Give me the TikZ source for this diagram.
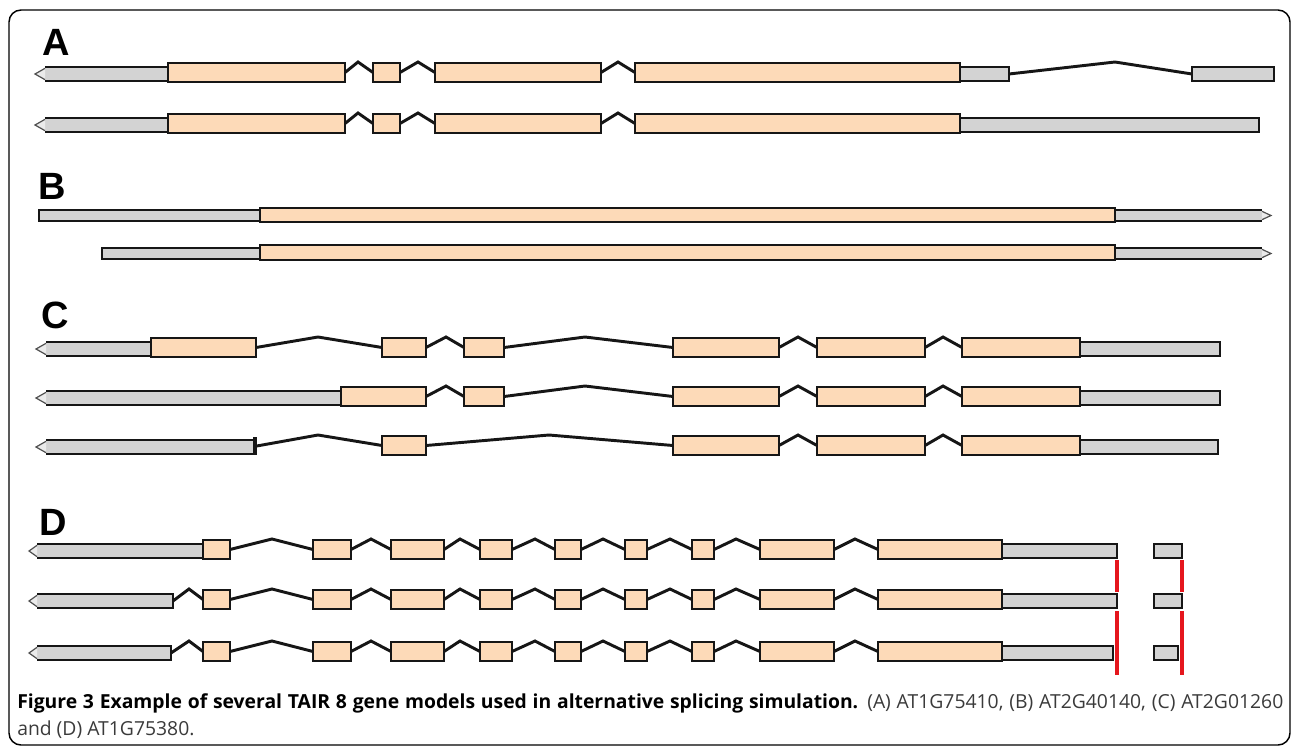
\documentclass[tikz,border=0pt]{standalone}
\usepackage{fontspec}
\setmainfont{Open Sans}
\newfontfamily\labfont{Liberation Sans}
\usetikzlibrary{calc}
\definecolor{cdsfill}{HTML}{FDDAB8}
\definecolor{utrfill}{HTML}{D3D3D3}
\definecolor{edgec}{HTML}{161616}
\definecolor{redmark}{HTML}{E5161D}
\definecolor{captxt}{HTML}{3A3A3A}
\tikzset{
 boxline/.style={draw=edgec, line width=2.1pt},
 cdsbox/.style={boxline, fill=cdsfill, inner sep=0pt, outer sep=0pt},
 utrbox/.style={boxline, fill=utrfill, inner sep=0pt, outer sep=0pt},
 utronly/.style={fill=utrfill, draw=none, inner sep=0pt, outer sep=0pt},
 intronline/.style={draw=edgec, line width=2.2pt, line join=miter},
 tipst/.style={draw=edgec!75, line width=0.9pt, fill=utrfill!45},
 panel/.style={font=\labfont\bfseries\fontsize{28.5}{28.5}\selectfont, anchor=base west, inner sep=0pt},
 redbar/.style={draw=redmark, line width=2.8pt},
 captext/.style={anchor=base west, inner sep=0pt, font=\fontsize{14.5}{20}\selectfont, text=captxt},
}
% exon: name, x1, x2, top y
\newcommand\cdsx[4]{\node[cdsbox, minimum width={(#3-#2)*0.75pt}, minimum height={19*0.75pt}] (#1) at ({(#2+#3)/2},{#4+9.5}) {};}
% plain UTR: name, x1, x2, top y (of row)
\newcommand\utrx[4]{\node[utrbox, minimum width={(#3-#2)*0.75pt}, minimum height={14*0.75pt}] (#1) at ({(#2+#3)/2},{#4+11}) {};}
% UTR with left-pointing tip: name, tip x, x1, x2, top y
\newcommand\utrtip[5]{\node[utronly, minimum width={(#4-#3)*0.75pt}, minimum height={14*0.75pt}] (#1) at ({(#3+#4)/2},{#5+11}) {};
 \draw[tipst] ([yshift=-1pt]#1.north west) -- (#2,{#5+11}) -- ([yshift=1pt]#1.south west);
 \draw[boxline] (#1.north west) -- (#1.north east) -- (#1.south east) -- (#1.south west);}
% intron: from, to, peak x, top y
\newcommand\intr[4]{\draw[intronline] (#1.east) -- (#3,{#4-1}) -- (#2.west);}
\begin{document}
\begin{tikzpicture}[x=0.75pt,y=-0.75pt]
\useasboundingbox (0,0) rectangle (1293,747);
\draw[line width=1.1pt, draw=black, rounded corners=9pt] (9,10) rectangle (1290,745);
% panel letters
\node[panel] (la) at (42,55) {A};
\node[panel] (lb) at (38,199) {B};
\node[panel] (lc) at (41,328) {C};
\node[panel] (ld) at (39,535) {D};
% ---------------- A ----------------
\utrtip{a1u}{35}{45}{168}{63}
\cdsx{a1e1}{168}{345}{63}
\cdsx{a1e2}{373}{400}{63}
\cdsx{a1e3}{435}{601}{63}
\cdsx{a1e4}{635}{960}{63}
\utrx{a1v}{960}{1009}{63}
\utrx{a1w}{1192}{1274}{63}
\intr{a1e1}{a1e2}{358}{63}
\intr{a1e2}{a1e3}{418}{63}
\intr{a1e3}{a1e4}{618}{63}
\intr{a1v}{a1w}{1115}{63}
\utrtip{a2u}{35}{45}{168}{114}
\cdsx{a2e1}{168}{345}{114}
\cdsx{a2e2}{373}{400}{114}
\cdsx{a2e3}{435}{601}{114}
\cdsx{a2e4}{635}{960}{114}
\utrx{a2v}{960}{1259}{114}
\intr{a2e1}{a2e2}{358}{114}
\intr{a2e2}{a2e3}{418}{114}
\intr{a2e3}{a2e4}{618}{114}
% ---------------- B ----------------
\begin{scope}[boxline/.append style={line width=1.5pt}]
\node[utrbox, minimum width={(260-39)*0.75pt}, minimum height={11*0.75pt}] (b1u) at ({(39+260)/2},215.5) {};
\node[cdsbox, minimum width={(1115-260)*0.75pt}, minimum height={14*0.75pt}] (b1e) at ({(260+1115)/2},215) {};
\node[utronly, minimum width={(1262-1115)*0.75pt}, minimum height={11*0.75pt}] (b1v) at ({(1115+1262)/2},215.5) {};
\draw[tipst] ([yshift=-1pt]b1v.north east) -- (1271,215.5) -- ([yshift=1pt]b1v.south east);
\draw[boxline] (b1v.north east) -- (b1v.north west) -- (b1v.south west) -- (b1v.south east);
\node[utrbox, minimum width={(260-102)*0.75pt}, minimum height={11*0.75pt}] (b2u) at ({(102+260)/2},253.5) {};
\node[cdsbox, minimum width={(1115-260)*0.75pt}, minimum height={15*0.75pt}] (b2e) at ({(260+1115)/2},252.5) {};
\node[utronly, minimum width={(1262-1115)*0.75pt}, minimum height={11*0.75pt}] (b2v) at ({(1115+1262)/2},253.5) {};
\draw[tipst] ([yshift=-1pt]b2v.north east) -- (1271,253.5) -- ([yshift=1pt]b2v.south east);
\draw[boxline] (b2v.north east) -- (b2v.north west) -- (b2v.south west) -- (b2v.south east);
\end{scope}
% ---------------- C ----------------
\utrtip{c1u}{36}{46}{151}{338}
\cdsx{c1e1}{151}{256}{338}
\cdsx{c1e2}{382}{426}{338}
\cdsx{c1e3}{464}{504}{338}
\cdsx{c1e4}{673}{779}{338}
\cdsx{c1e5}{817}{925}{338}
\cdsx{c1e6}{962}{1080}{338}
\utrx{c1v}{1080}{1220}{338}
\intr{c1e1}{c1e2}{318}{338}
\intr{c1e2}{c1e3}{446}{338}
\intr{c1e3}{c1e4}{585}{338}
\intr{c1e4}{c1e5}{798}{338}
\intr{c1e5}{c1e6}{943}{338}
\utrtip{c2u}{36}{46}{341}{387}
\cdsx{c2e1}{341}{426}{387}
\cdsx{c2e2}{464}{504}{387}
\cdsx{c2e3}{673}{779}{387}
\cdsx{c2e4}{817}{925}{387}
\cdsx{c2e5}{962}{1080}{387}
\utrx{c2v}{1080}{1220}{387}
\intr{c2e1}{c2e2}{446}{387}
\intr{c2e2}{c2e3}{585}{387}
\intr{c2e3}{c2e4}{798}{387}
\intr{c2e4}{c2e5}{943}{387}
\utrtip{c3u}{36}{46}{255}{436}
\node[fill=edgec, inner sep=0pt, outer sep=0pt, minimum width={3.5*0.75pt}, minimum height={18*0.75pt}] (c3t) at (255,446) {};
\cdsx{c3e1}{382}{426}{436}
\cdsx{c3e2}{673}{779}{436}
\cdsx{c3e3}{817}{925}{436}
\cdsx{c3e4}{962}{1080}{436}
\utrx{c3v}{1080}{1218}{436}
\intr{c3t}{c3e1}{318}{436}
\intr{c3e1}{c3e2}{549}{436}
\intr{c3e2}{c3e3}{798}{436}
\intr{c3e3}{c3e4}{943}{436}
% ---------------- D ----------------
\foreach \r/\yt/\ue/\ve/\we in {1/540/203/1117/1182, 2/590/173/1117/1182, 3/642/171/1113/1178} {
  \utrtip{d\r u}{29}{37}{\ue}{\yt}
  \cdsx{d\r e1}{203}{230}{\yt}
  \cdsx{d\r e2}{313}{351}{\yt}
  \cdsx{d\r e3}{391}{444}{\yt}
  \cdsx{d\r e4}{480}{512}{\yt}
  \cdsx{d\r e5}{555}{581}{\yt}
  \cdsx{d\r e6}{625}{647}{\yt}
  \cdsx{d\r e7}{692}{714}{\yt}
  \cdsx{d\r e8}{760}{834}{\yt}
  \cdsx{d\r e9}{878}{1002}{\yt}
  \utrx{d\r v}{1002}{\ve}{\yt}
  \utrx{d\r w}{1154}{\we}{\yt}
  \intr{d\r e1}{d\r e2}{272}{\yt}
  \intr{d\r e2}{d\r e3}{371}{\yt}
  \intr{d\r e3}{d\r e4}{460}{\yt}
  \intr{d\r e4}{d\r e5}{535}{\yt}
  \intr{d\r e5}{d\r e6}{603}{\yt}
  \intr{d\r e6}{d\r e7}{670}{\yt}
  \intr{d\r e7}{d\r e8}{736}{\yt}
  \intr{d\r e8}{d\r e9}{855}{\yt}
}
\intr{d2u}{d2e1}{189}{590}
\intr{d3u}{d3e1}{189}{642}
% red marks
\draw[redbar] (1117,560) -- (1117,592);
\draw[redbar] (1117,611) -- (1117,675);
\draw[redbar] (1182,560) -- (1182,592);
\draw[redbar] (1182,611) -- (1182,675);
% caption
\node[captext] (cap1) at (17,708)
 {\makebox[949.5pt][s]{\textcolor{black}{\bfseries Figure 3 Example of several TAIR 8 gene models used in alternative splicing simulation.} (A) AT1G75410, (B) AT2G40140, (C) AT2G01260}};
\node[captext] (cap2) at (17,735) {and (D) AT1G75380.};
\end{tikzpicture}
\end{document}
